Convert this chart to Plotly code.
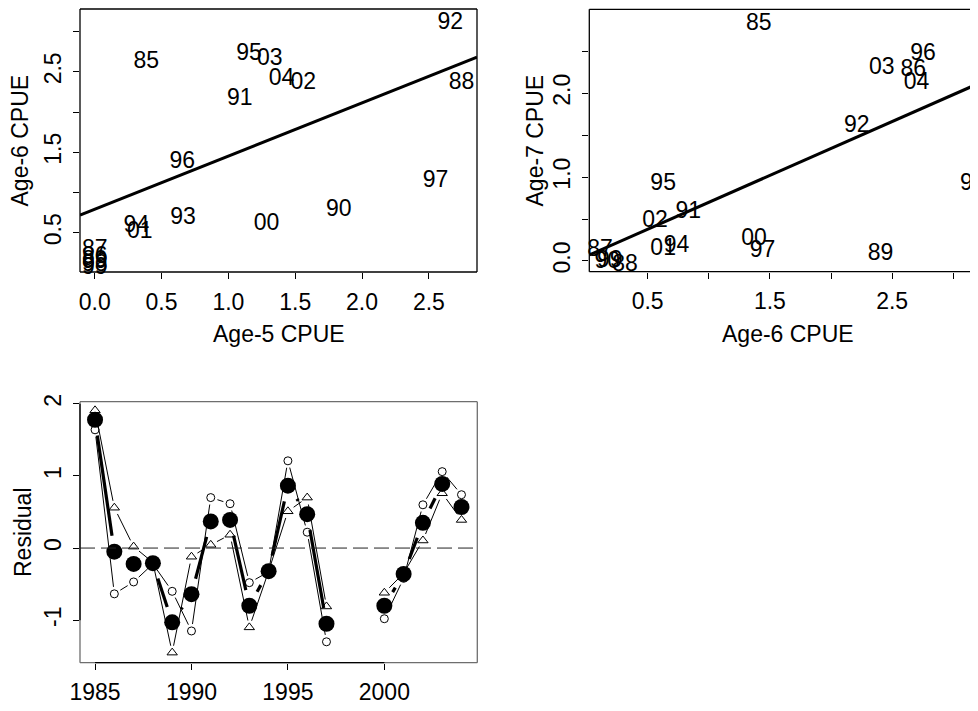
import math
import plotly.graph_objects as go

# page body has an 8px margin: the figure is drawn from (8, 8) in the window
OX, OY = 8, 8
W, H = 970, 703
FONT = "Liberation Sans, Arial, sans-serif"
FS = 23

# ---------------- data: panel A (Age-5 vs Age-6 CPUE) ----------------
lab_a = ["85", "86", "87", "88", "89", "90", "91", "92", "93", "94",
         "95", "96", "97", "98", "99", "00", "01", "02", "03", "04"]
age5_a = [0.386, 0.0, 0.0, 2.745, 0.0, 1.826, 1.085, 2.66, 0.661, 0.312,
          1.155, 0.656, 2.55, 0.0, 0.0, 1.285, 0.337, 1.56, 1.31, 1.397]
age6_a = [2.62, 0.19, 0.28, 2.36, 0.14, 0.78, 2.16, 3.10, 0.68, 0.575,
          2.72, 1.38, 1.135, 0.09, 0.06, 0.61, 0.50, 2.36, 2.65, 2.41]
fit_a = (0.793, 0.66)  # intercept, slope

# ---------------- data: panel B (Age-6 vs Age-7 CPUE) ----------------
lab_b = ["85", "86", "87", "88", "89", "90", "91", "92", "93", "94",
         "95", "96", "97", "99", "00", "01", "02", "03", "04"]
age6_b = [1.41, 2.673, 0.11, 0.315, 2.405, 0.17, 0.832, 2.21, 3.16, 0.737,
          0.627, 2.753, 1.44, 0.19, 1.37, 0.627, 0.56, 2.415, 2.70]
age7_b = [2.82, 2.27, 0.13, -0.05, 0.083, -0.01, 0.58, 1.60, 0.92, 0.18,
          0.92, 2.46, 0.12, 0.0, 0.26, 0.14, 0.47, 2.30, 2.12]
fit_b = (0.057, 0.642)

# ---------------- data: panel C (residuals) ----------------
years = list(range(1985, 2005))
res_mean = [1.78, -0.05, -0.22, -0.21, -1.03, -0.64, 0.37, 0.39, -0.80, -0.32,
            0.865, 0.47, -1.05, None, None, -0.80, -0.36, 0.35, 0.89, 0.57]
res_circ = [1.64, -0.635, -0.47, -0.22, -0.60, -1.15, 0.70, 0.615, -0.48, -0.33,
            1.21, 0.22, -1.30, None, None, -0.98, -0.42, 0.60, 1.06, 0.74]
res_tri = [1.91, 0.56, 0.02, -0.20, -1.45, -0.12, 0.045, 0.185, -1.10, -0.32,
           0.51, 0.70, -0.81, None, None, -0.62, -0.35, 0.105, 0.76, 0.39]

# ---------------- layout geometry (window pixels) ----------------
def px_dom_x(a, b):
    return [(a - OX) / W, min((b - OX) / W, 1.0)]

def px_dom_y(top, bottom):
    return [1 - (bottom - OY) / H, 1 - (top - OY) / H]

dxA, dyA = px_dom_x(80, 477), px_dom_y(9, 272)
dxB, dyB = px_dom_x(589.3, 978), px_dom_y(9.3, 271.7)
dxC, dyC = px_dom_x(80, 477.3), px_dom_y(401.7, 662.7)

xrA, yrA = [-0.11, 2.86], [0.012, 3.28]
xrB, yrB = [0.023, 3.202], [-0.128, 3.0]
xrC, yrC = [1984.22, 2004.82], [-1.59, 2.03]

fig = go.Figure()

def text_trace(x, y, t, xa, ya):
    fig.add_trace(go.Scatter(x=x, y=y, text=t, mode="text", xaxis=xa, yaxis=ya,
                             textposition="middle center", cliponaxis=False,
                             textfont=dict(family=FONT, size=FS, color="black"),
                             showlegend=False, hoverinfo="skip"))

def fit_line(fit, xr, xa, ya):
    a, b = fit
    fig.add_trace(go.Scatter(x=[xr[0], xr[1]], y=[a + b * xr[0], a + b * xr[1]],
                             mode="lines", xaxis=xa, yaxis=ya,
                             line=dict(color="black", width=3),
                             showlegend=False, hoverinfo="skip"))

fit_line(fit_a, xrA, "x", "y")
text_trace(age5_a, age6_a, lab_a, "x", "y")
fit_line(fit_b, xrB, "x2", "y2")
text_trace(age6_b, age7_b, lab_b, "x2", "y2")

# gapped segments like R's type="b"
def gapped(xs, ys, xr, yr, dx, dy, gap):
    sx = (dx[1] - dx[0]) * W / (xr[1] - xr[0])
    sy = (dy[1] - dy[0]) * H / (yr[1] - yr[0])
    ox, oy = [], []
    for i in range(len(xs) - 1):
        if ys[i] is None or ys[i + 1] is None:
            continue
        ddx = (xs[i + 1] - xs[i]) * sx
        ddy = (ys[i + 1] - ys[i]) * sy
        L = math.hypot(ddx, ddy)
        if L <= 2 * gap:
            continue
        f = gap / L
        ox += [xs[i] + (xs[i + 1] - xs[i]) * f, xs[i + 1] - (xs[i + 1] - xs[i]) * f, None]
        oy += [ys[i] + (ys[i + 1] - ys[i]) * f, ys[i + 1] - (ys[i + 1] - ys[i]) * f, None]
    return ox, oy

# zero dashed line
fig.add_shape(type="line", xref="x3 domain", yref="y3", x0=0, x1=1, y0=0, y1=0,
              line=dict(color="#222", width=1, dash="15px,6px"))

for ys, sym, size, gap in [(res_circ, "circle", 8, 7), (res_tri, "triangle-up", 9, 7)]:
    gx, gy = gapped(years, ys, xrC, yrC, dxC, dyC, gap)
    fig.add_trace(go.Scatter(x=gx, y=gy, mode="lines", xaxis="x3", yaxis="y3",
                             line=dict(color="black", width=1),
                             showlegend=False, hoverinfo="skip"))
    fig.add_trace(go.Scatter(x=years, y=ys, mode="markers", xaxis="x3", yaxis="y3",
                             marker=dict(symbol=sym, size=size, color="white",
                                         line=dict(color="black", width=1)),
                             showlegend=False, hoverinfo="skip"))

gx, gy = gapped(years, res_mean, xrC, yrC, dxC, dyC, 16)
fig.add_trace(go.Scatter(x=gx, y=gy, mode="lines", xaxis="x3", yaxis="y3",
                         line=dict(color="black", width=3.2),
                         showlegend=False, hoverinfo="skip"))
fig.add_trace(go.Scatter(x=years, y=res_mean, mode="markers", xaxis="x3", yaxis="y3",
                         marker=dict(symbol="circle", size=16, color="black",
                                     line=dict(color="black", width=0)),
                         showlegend=False, hoverinfo="skip"))

# ---------------- axes ----------------
tickfont = dict(family=FONT, size=FS, color="black")

def axis(dom, rng, tv, tt, anchor, is_y):
    d = dict(domain=dom, range=rng, tickvals=tv, ticktext=tt, ticks="outside",
             ticklen=6, tickwidth=1, tickcolor="black", showline=False,
             showgrid=False, zeroline=False, tickfont=tickfont, anchor=anchor,
             fixedrange=True, automargin=False, ticklabelstandoff=3)
    if is_y:
        d["tickangle"] = -90
    return d

xtA = [0.0, 0.5, 1.0, 1.5, 2.0, 2.5]
ytA = [0.5, 1.0, 1.5, 2.0, 2.5, 3.0]
xtB = [0.5, 1.0, 1.5, 2.0, 2.5, 3.0]
ytB = [0.0, 0.5, 1.0, 1.5, 2.0, 2.5]
xtC = [1985, 1990, 1995, 2000]
ytC = [-1, 0, 1, 2]

fig.update_layout(
    xaxis=axis(dxA, xrA, xtA, ["0.0", "0.5", "1.0", "1.5", "2.0", "2.5"], "y", False),
    yaxis=axis(dyA, yrA, ytA, ["0.5", "", "1.5", "", "2.5", ""], "x", True),
    xaxis2=axis(dxB, xrB, xtB, ["0.5", "", "1.5", "", "2.5", ""], "y2", False),
    yaxis2=axis(dyB, yrB, ytB, ["0.0", "", "1.0", "", "2.0", ""], "x2", True),
    xaxis3=axis(dxC, xrC, xtC, ["1985", "1990", "1995", "2000"], "y3", False),
    yaxis3=axis(dyC, yrC, ytC, ["-1", "0", "1", "2"], "x3", True),
)

# ---------------- frames ----------------
def frame(dx, dy, color, sides="tblr"):
    pts = {"t": (dx[0], dy[1], dx[1], dy[1]), "b": (dx[0], dy[0], dx[1], dy[0]),
           "l": (dx[0], dy[0], dx[0], dy[1]), "r": (dx[1], dy[0], dx[1], dy[1])}
    for s in sides:
        x0, y0, x1, y1 = pts[s]
        fig.add_shape(type="line", xref="paper", yref="paper", x0=x0, y0=y0, x1=x1, y1=y1,
                      line=dict(color=color, width=1.3))

frame(dxA, dyA, "black")
frame(dxB, dyB, "black", sides="tbl")
frame(dxC, dyC, "#6e6e6e")
# R-style axis lines (first to last tick) for the residual panel
fig.add_shape(type="line", xref="x3", yref="paper", x0=1985, x1=2000, y0=dyC[0], y1=dyC[0],
              line=dict(color="black", width=1.3))
fig.add_shape(type="line", xref="paper", yref="y3", x0=dxC[0], x1=dxC[0], y0=-1, y1=2,
              line=dict(color="black", width=1.3))

# ---------------- titles ----------------
def title(text, xp, yp, angle=0):
    fig.add_annotation(text=text, x=(xp - OX) / W, y=1 - (yp - OY) / H,
                       xref="paper", yref="paper",
                       showarrow=False, textangle=angle, xanchor="center", yanchor="middle",
                       font=dict(family=FONT, size=FS, color="black"))

title("Age-5 CPUE", 278.5, 334)
title("Age-6 CPUE", 19, 140.5, -90)
title("Age-6 CPUE", 788, 334)
title("Age-7 CPUE", 534, 140.5, -90)
title("Residual", 23, 532, -90)

fig.update_layout(width=W, height=H, margin=dict(l=0, r=0, t=0, b=0),
                  paper_bgcolor="white", plot_bgcolor="white", showlegend=False)

fig.write_html("out.html")
